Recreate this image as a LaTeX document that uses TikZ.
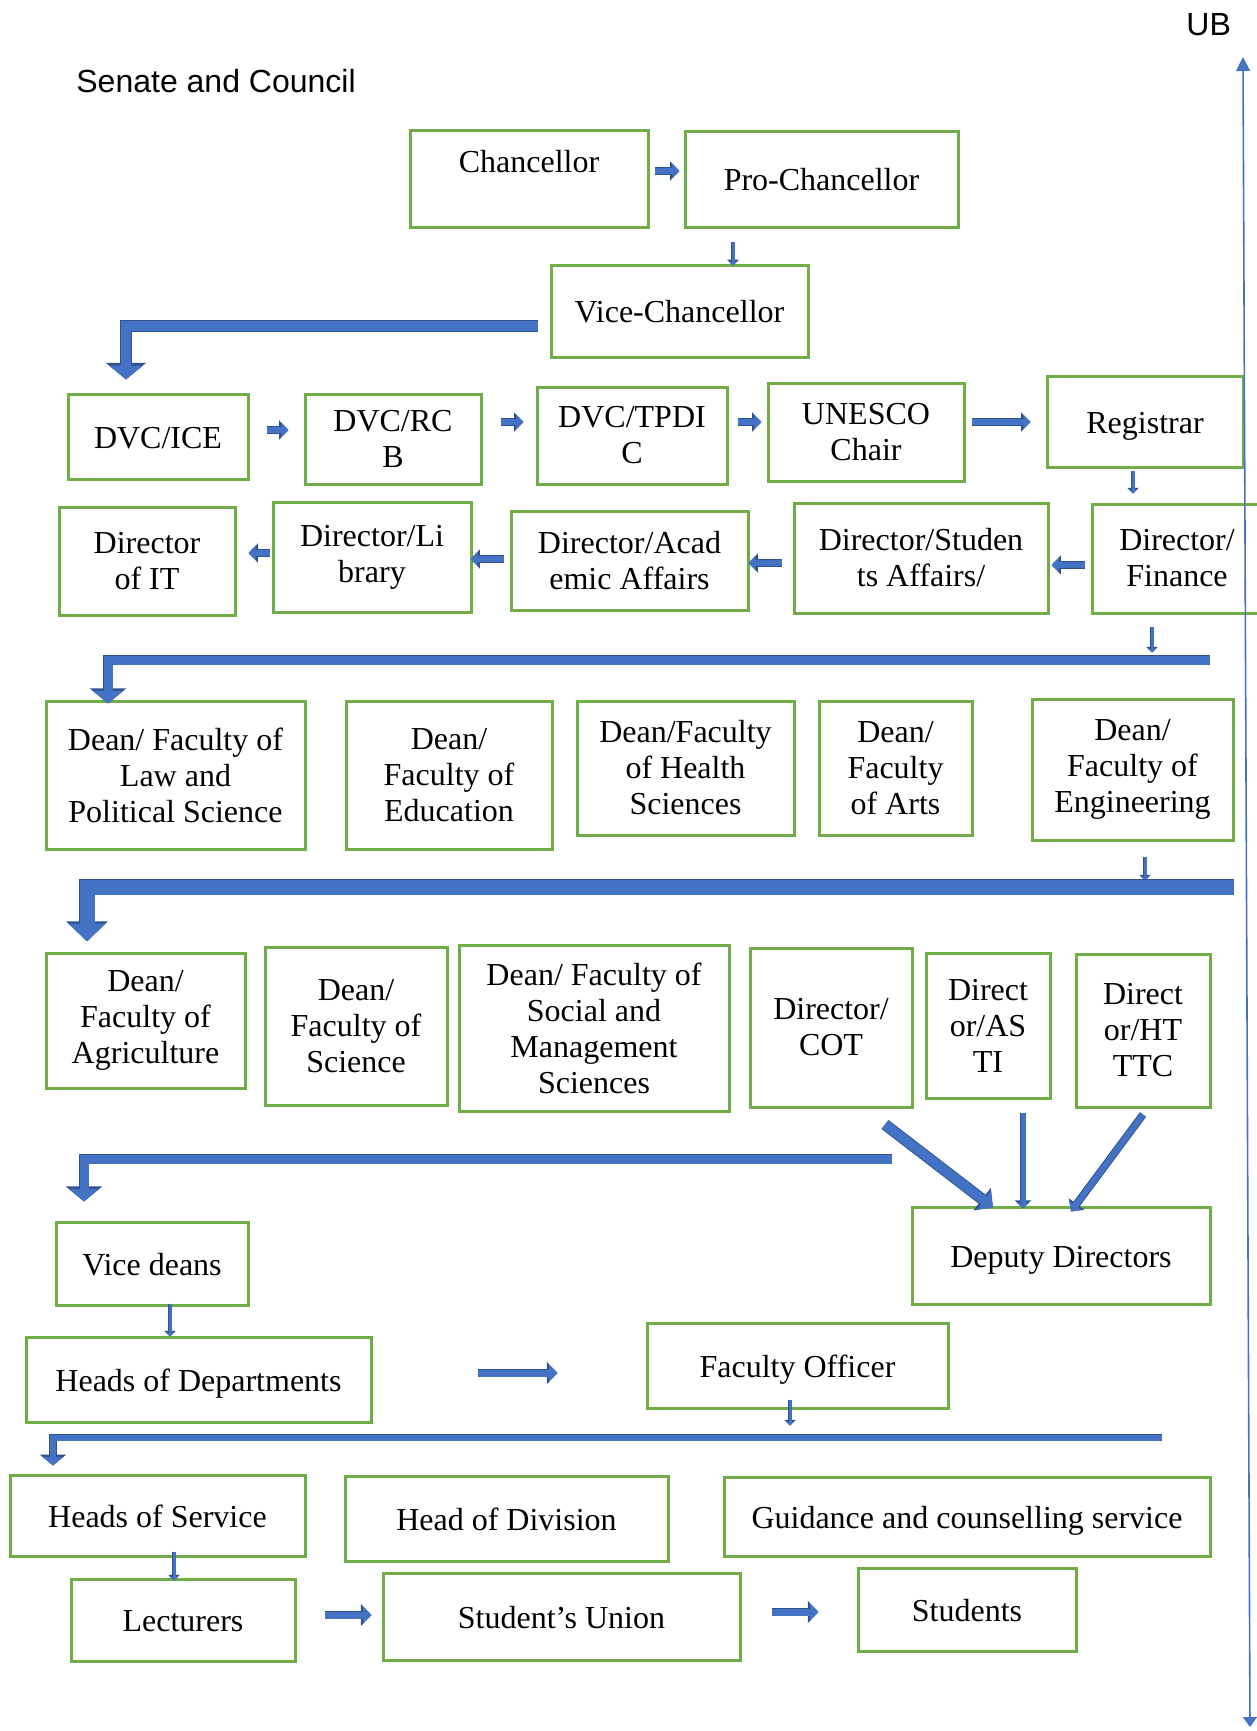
\documentclass[tikz,border=0pt]{standalone}
\usepackage{fontspec}
\setmainfont{Liberation Serif}
\newfontfamily\arialfont{Liberation Sans}
\usetikzlibrary{arrows.meta,calc}

\definecolor{boxgreen}{HTML}{70AD47}
\definecolor{ubblue}{HTML}{4472C4}
\definecolor{ubdark}{HTML}{2F528F}

\tikzstyle{box}=[draw=boxgreen,line width=1.5pt,align=center,inner sep=1pt,font=\fontsize{16}{18}\selectfont]
\tikzstyle{oneline}=[text height=12.5pt,text depth=1pt]
\tikzstyle{caption}=[inner sep=0pt,font=\arialfont\fontsize{16}{18}\selectfont]
\tikzset{
  flow/.style={ubblue,line width=#1,-{Triangle[width=0pt 2.4,length=0pt 1.2]},
    preaction={draw=ubdark,line width=#1+0.9pt,-{Triangle[width=0pt 2.4,length=0pt 1.2]}}},
  bend/.style={ubblue,line width=#1,-{Triangle[width=0pt 3.3,length=0pt 1.4]},
    preaction={draw=ubdark,line width=#1+0.9pt,-{Triangle[width=0pt 3.3,length=0pt 1.4]}}}
}

\begin{document}
\begin{tikzpicture}[x=0.5pt,y=-0.5pt]
		\path[use as bounding box] (0,0) rectangle (1257,1731);
		\clip (0,0) rectangle (1257,1731);

		\node (senate) at (76,92) [caption,anchor=base west] {Senate and Council};
		\node (ub) at (1186,35) [caption,anchor=base west] {UB};

		% top
		\node (chan) at (529,178.5) [box,minimum width=119pt,minimum height=48.5pt,text height=11pt,text depth=17.5pt] {Chancellor};
		\node (pro) at (821.5,179) [box,oneline,minimum width=136.5pt,minimum height=48pt] {Pro-Chancellor};
		\node (vc) at (679.5,311) [box,oneline,minimum width=128.5pt,minimum height=46pt] {Vice-Chancellor};

		% deputies and registrar
		\node (ice) at (158,436.5) [box,oneline,minimum width=90pt,minimum height=42.5pt] {DVC/ICE};
		\node (rcb) at (393,439) [box,minimum width=88pt,minimum height=45pt] {DVC/RC\\B};
		\node (tpdic) at (632,435.5) [box,minimum width=95pt,minimum height=48.5pt] {DVC/TPDI\\C};
		\node (unesco) at (866,432) [box,minimum width=98pt,minimum height=49pt] {UNESCO\\Chair};
		\node (reg) at (1145,421.5) [box,oneline,minimum width=98pt,minimum height=45.5pt] {Registrar};

		% directors
		\node (dit) at (147,561) [box,minimum width=88pt,minimum height=54pt] {Director\\of IT};
		\node (lib) at (372,557) [box,minimum width=99pt,minimum height=55pt] {Director/Li\\brary};
		\node (acad) at (629.5,560.5) [box,minimum width=118.5pt,minimum height=49.5pt] {Director/Acad\\emic Affairs};
		\node (stud) at (921,558) [box,minimum width=127pt,minimum height=55pt] {Director/Studen\\ts Affairs/};
		\node (fin) at (1177,558.5) [box,minimum width=85pt,minimum height=54.5pt] {Director/\\Finance};

		% deans
		\node (law) at (175.5,775) [box,minimum width=129.5pt,minimum height=74pt] {Dean/ Faculty of\\Law and\\Political Science};
		\node (edu) at (449,775) [box,minimum width=103pt,minimum height=74pt] {Dean/\\Faculty of\\Education};
		\node (hlth) at (685.5,768) [box,minimum width=108.5pt,minimum height=67pt] {Dean/Faculty\\of Health\\Sciences};
		\node (arts) at (895.5,768) [box,minimum width=76.5pt,minimum height=67pt] {Dean/\\Faculty\\of Arts};
		\node (eng) at (1132.5,769.5) [box,minimum width=100.5pt,minimum height=70.5pt] {Dean/\\Faculty of\\Engineering};

		\node (agri) at (145.5,1020.5) [box,minimum width=99.5pt,minimum height=67.5pt] {Dean/\\Faculty of\\Agriculture};
		\node (sci) at (356,1026) [box,minimum width=91pt,minimum height=79pt] {Dean/\\Faculty of\\Science};
		\node (soc) at (594,1028) [box,minimum width=135pt,minimum height=83pt] {Dean/ Faculty of\\Social and\\Management\\Sciences};
		\node (cot) at (831,1027.5) [box,minimum width=81pt,minimum height=79.5pt] {Director/\\COT};
		\node (asti) at (988,1025.5) [box,minimum width=62pt,minimum height=72.5pt] {Direct\\or/AS\\TI};
		\node (httc) at (1143,1030.5) [box,minimum width=67pt,minimum height=76.5pt] {Direct\\or/HT\\TTC};

		% lower levels
		\node (vdean) at (152,1263.5) [box,oneline,minimum width=96pt,minimum height=41.5pt] {Vice deans};
		\node (dep) at (1061,1255.5) [box,oneline,minimum width=149pt,minimum height=48.5pt] {Deputy Directors};
		\node (hod) at (198.5,1379.5) [box,oneline,minimum width=172.5pt,minimum height=42.5pt] {Heads of Departments};
		\node (fo) at (797.5,1365.5) [box,oneline,minimum width=150.5pt,minimum height=42.5pt] {Faculty Officer};
		\node (hos) at (157.5,1515.5) [box,oneline,minimum width=147.5pt,minimum height=40.5pt] {Heads of Service};
		\node (hdiv) at (506.5,1518.5) [box,oneline,minimum width=161.5pt,minimum height=42.5pt] {Head of Division};
		\node (guid) at (967,1516.5) [box,oneline,minimum width=243pt,minimum height=39.5pt] {Guidance and counselling service};
		\node (lect) at (183,1620) [box,oneline,minimum width=112pt,minimum height=41pt] {Lecturers};
		\node (union) at (561.5,1616.5) [box,oneline,minimum width=178.5pt,minimum height=43.5pt] {Student’s Union};
		\node (studs) at (967,1609.5) [box,oneline,minimum width=109pt,minimum height=41.5pt] {Students};

		% connectors
		\draw[flow=3pt] ($(chan.east)+(5,-7.5)$) -- ($(pro.west)+(-4,-8)$);
		\draw[flow=1.5pt] ($(pro.south)+(-88.5,13)$) -- ($(vc.north)+(53.5,2)$);
		\draw[bend=5pt] ($(vc.west)+(-12,15)$) -| ($(ice.north)+(-32,-13)$);

		\draw[flow=3pt] ($(ice.east)+(17,-6.5)$) -- ($(rcb.west)+(-15,-9)$);
		\draw[flow=3pt] ($(rcb.east)+(18,-17)$) -- ($(tpdic.west)+(-12,-13.5)$);
		\draw[flow=3pt] ($(tpdic.east)+(9,-13.5)$) -- ($(unesco.west)+(-5,-10)$);
		\draw[flow=3pt] ($(unesco.east)+(6,-10)$) -- ($(reg.west)+(-15,0.5)$);
		\draw[flow=1.5pt] ($(reg.south)+(-12,2)$) -- ($(fin.north)+(-44,-9)$);

		\draw[flow=3pt] ($(fin.west)+(-6,6.5)$) -- ($(stud.east)+(2,7)$);
		\draw[flow=3pt] ($(stud.west)+(-11,5)$) -- ($(acad.east)+(-1,2.5)$);
		\draw[flow=3pt] ($(acad.west)+(-6,-1.5)$) -- ($(lib.east)+(-2,2)$);
		\draw[flow=3pt] ($(lib.west)+(-2,-4)$) -- ($(dit.east)+(12,-8)$);

		\draw[flow=1.5pt] ($(fin.south)+(-25,12)$) -- ($(fin.south)+(-25,38)$);
		\draw[bend=4.5pt] ($(fin.south)+(33,45.5)$) -| ($(law.north)+(-67.5,4)$);

		\draw[flow=1.5pt] ($(eng.south)+(12.5,15)$) -- ($(eng.south)+(12.5,39)$);
		\draw[flow=7.5pt] ($(eng.south)+(101.5,45.5)$) -| ($(agri.north)+(-58.5,-10)$);

		\draw[flow=4.8pt] ($(cot.south)+(54,16)$) -- ($(dep.north)+(-68,2)$);
		\draw[flow=2.5pt] ($(asti.south)+(35,13)$) -- ($(dep.north)+(-38,3)$);
		\draw[flow=3pt] ($(httc.south)+(0,6)$) -- ($(dep.north)+(10,6)$);
		\draw[bend=4.5pt] ($(cot.south)+(61,50.5)$) -| ($(vdean.north)+(-68,-19)$);

		\draw[flow=1.5pt] ($(vdean.south)+(18,-3)$) -- ($(hod.north)+(-28.5,1)$);
		\draw[flow=3.5pt] ($(hod.east)+(105,-6.5)$) -- ($(fo.west)+(-88,7.5)$);
		\draw[flow=1.5pt] ($(fo.south)+(-7.5,-10)$) -- ($(fo.south)+(-7.5,16)$);
		\draw[bend=3pt] ($(fo.south)+(364.5,28)$) -| ($(hos.north)+(-104.5,-8)$);

		\draw[flow=1.5pt] ($(hos.south)+(16.5,-6)$) -- ($(lect.north)+(-9,3)$);
		\draw[flow=3.5pt] ($(lect.east)+(28,-5)$) -- ($(union.west)+(-10,-1.5)$);
		\draw[flow=3.5pt] ($(union.east)+(30,-4.5)$) -- ($(studs.west)+(-38,2.5)$);

		% UB axis
		\coordinate (ubtop) at (1243,57);
		\coordinate (ubbot) at (1250,1727);
		\draw[ubblue,line width=0.8pt,{Triangle[width=7pt,length=7pt]}-{Triangle[width=7pt,length=5pt]}] (ubtop) -- (ubbot);
	\end{tikzpicture}
\end{document}
